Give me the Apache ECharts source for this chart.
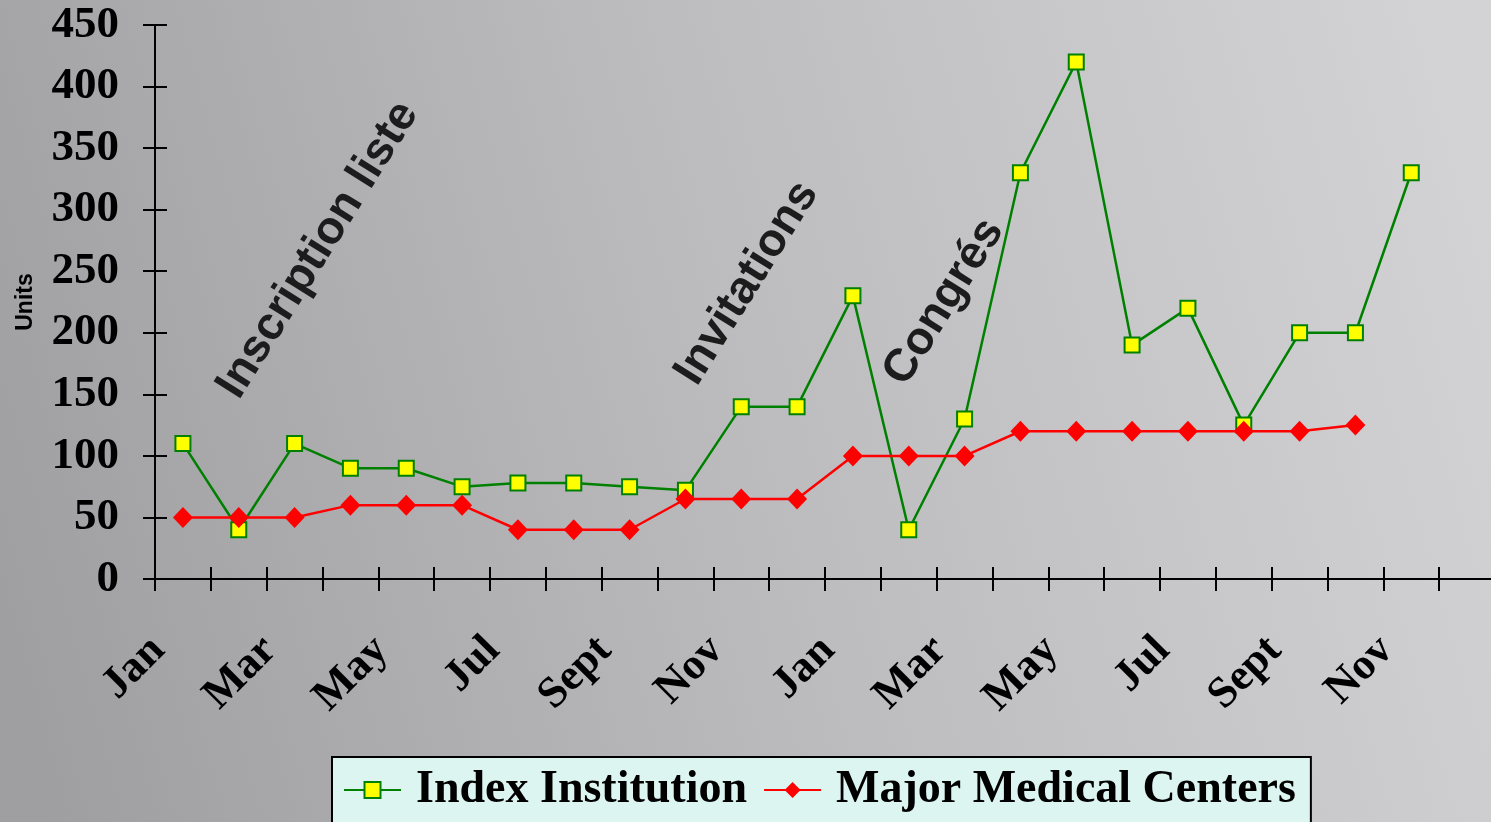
<!DOCTYPE html>
<html>
<head>
<meta charset="utf-8">
<script src="https://cdn.jsdelivr.net/npm/echarts@6/dist/echarts.min.js"></script>
<style>
	html, body { margin: 0; padding: 0; overflow: hidden; }
	#chart { width: 1491px; height: 822px; }
</style>
</head>
<body>
<div id="chart"></div>
<script>
// months over two years, the last one is empty
var months = ['Jan', 'Feb', 'Mar', 'Apr', 'May', 'Jun', 'Jul', 'Aug', 'Sept', 'Oct', 'Nov', 'Dec',
		'Jan', 'Feb', 'Mar', 'Apr', 'May', 'Jun', 'Jul', 'Aug', 'Sept', 'Oct', 'Nov', 'Dec'];
var indexInstitution = [110, 40, 110, 90, 90, 75, 78, 78, 75, 72, 140, 140,
		230, 40, 130, 330, 420, 190, 220, 125, 200, 200, 330, '-'];
var majorMedicalCenters = [50, 50, 50, 60, 60, 60, 40, 40, 40, 65, 65, 65,
		100, 100, 100, 120, 120, 120, 120, 120, 120, 125, '-', '-'];
var yTicks = { min: 0, max: 450, interval: 50 };
var notes = ['Inscription liste', 'Invitations', 'Congrés'];

var serif = "'Liberation Serif', 'Times New Roman', serif";
var sans = "'Liberation Sans', Arial, sans-serif";

var myChart = echarts.init(document.getElementById('chart'));

// axis with ticks crossing the line: one outside, one inside
function xAxisDef(inside) {
	return {
		type: 'category',
		position: 'bottom',
		data: months,
		boundaryGap: true,
		axisLine: { show: !inside, lineStyle: { color: '#000', width: 2 } },
		axisTick: { show: true, inside: inside, length: 12, interval: 0,
			lineStyle: { color: '#000', width: 2 } },
		axisLabel: inside ? { show: false } : {
			interval: 1,
			rotate: 45,
			margin: 40,
			padding: [0, 35, 0, 0],
			color: '#000',
			fontFamily: serif,
			fontWeight: 'bold',
			fontSize: 44
		},
		splitLine: { show: false }
	};
}
function yAxisDef(inside) {
	return {
		type: 'value',
		position: 'left',
		min: yTicks.min,
		max: yTicks.max,
		interval: yTicks.interval,
		name: inside ? '' : 'Units',
		nameLocation: 'middle',
		nameGap: 118,
		nameRotate: 90,
		nameTextStyle: { color: '#000', fontFamily: sans, fontWeight: 'bold', fontSize: 23 },
		axisLine: { show: !inside, lineStyle: { color: '#000', width: 2 } },
		axisTick: { show: true, inside: inside, length: 12,
			lineStyle: { color: '#000', width: 2 } },
		axisLabel: inside ? { show: false } : {
			margin: 36,
			color: '#000',
			fontFamily: serif,
			fontWeight: 'bold',
			fontSize: 45
		},
		splitLine: { show: false }
	};
}

// rotated annotations
function note(text, x, y) {
	return {
		type: 'text',
		x: x,
		y: y,
		rotation: 58 * Math.PI / 180,
		z: 1,
		style: {
			text: text,
			fill: '#1c1c1c',
			font: "bold 46px " + sans,
			align: 'center',
			verticalAlign: 'middle'
		}
	};
}

var option = {
	backgroundColor: {
		type: 'linear', x: 0, y: 0.75, x2: 1, y2: 0.25,
		colorStops: [
			{ offset: 0, color: '#9f9fa1' },
			{ offset: 0.5, color: '#bcbcbe' },
			{ offset: 1, color: '#d3d3d5' }
		]
	},
	animation: false,
	grid: { left: 155, top: 25, right: -4, bottom: 243, outerBoundsMode: 'none', containLabel: false },
	legend: {
		left: 332,
		top: 757,
		padding: [10, 15, 30, 11],
		backgroundColor: '#dcf5f1',
		borderColor: '#000',
		borderWidth: 2,
		borderRadius: 0,
		itemWidth: 57,
		itemHeight: 20,
		itemGap: 16,
		textStyle: { color: '#000', fontFamily: serif, fontWeight: 'bold', fontSize: 46,
			padding: [0, 0, 0, 10] },
		data: ['Index Institution', 'Major Medical Centers']
	},
	xAxis: [xAxisDef(false), xAxisDef(true)],
	yAxis: [yAxisDef(false), yAxisDef(true)],
	graphic: [
		note(notes[0], 318, 250),
		note(notes[1], 747, 283),
		note(notes[2], 944, 302)
	],
	series: [{
		name: 'Index Institution',
		type: 'line',
		data: indexInstitution,
		symbol: 'rect',
		symbolSize: 15,
		lineStyle: { color: '#008000', width: 2.5 },
		itemStyle: { color: '#ffff00', borderColor: '#008000', borderWidth: 2 },
		z: 3
	}, {
		name: 'Major Medical Centers',
		type: 'line',
		data: majorMedicalCenters,
		symbol: 'diamond',
		symbolSize: [20, 21],
		lineStyle: { color: '#ff0000', width: 2.5 },
		itemStyle: { color: '#ff0000' },
		z: 4
	}]
};
myChart.setOption(option);
</script>
</body>
</html>
